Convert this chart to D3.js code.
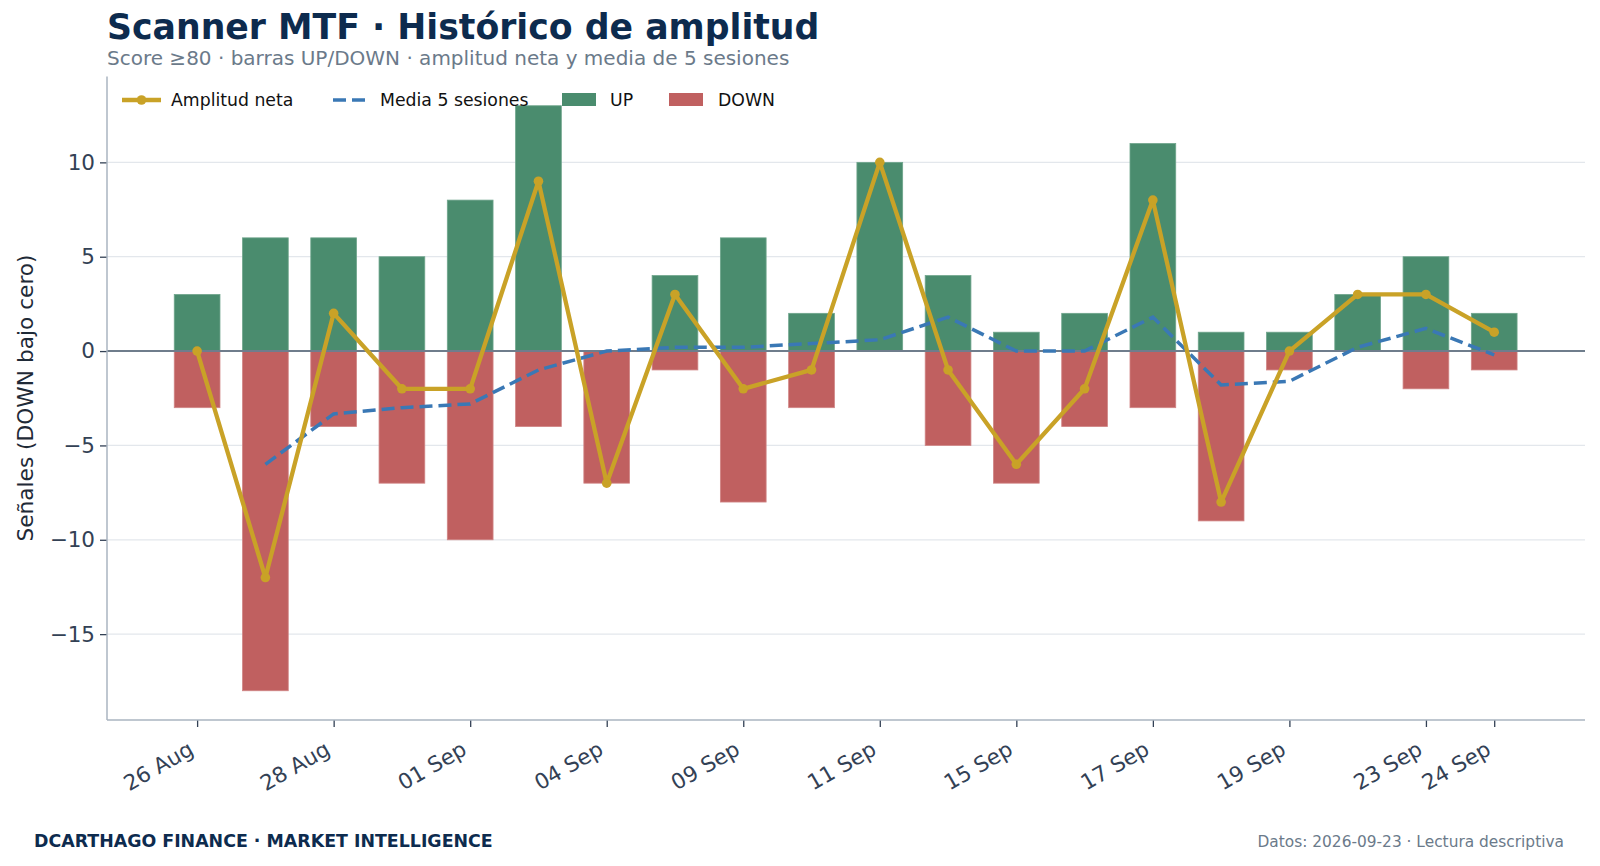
<!DOCTYPE html>
<html><head><meta charset="utf-8">
<script src="https://cdn.jsdelivr.net/npm/d3@7/dist/d3.min.js"></script>
<style>
html,body{margin:0;padding:0;background:#fff;}
svg{display:block;font-family:"DejaVu Sans",sans-serif;}
</style></head>
<body><svg id="c" width="1600" height="866"></svg>
<script>
const dates = ["26 Aug","27 Aug","28 Aug","29 Aug","01 Sep","02 Sep","04 Sep","05 Sep","09 Sep","10 Sep","11 Sep","12 Sep","15 Sep","16 Sep","17 Sep","18 Sep","19 Sep","22 Sep","23 Sep","24 Sep"];
const upValues = [3,6,6,5,8,13,0,4,6,2,10,4,1,2,11,1,1,3,5,2];
const downValues = [-3,-18,-4,-7,-10,-4,-7,-1,-8,-3,0,-5,-7,-4,-3,-9,-1,0,-2,-1];
const netValues = [0,-12,2,-2,-2,9,-7,3,-2,-1,10,-1,-6,-2,8,-8,0,3,3,1];
const mean5Values = [null,-6,-3.33,-3,-2.8,-1,0,0.2,0.2,0.4,0.6,1.8,0,0,1.8,-1.8,-1.6,0.2,1.2,-0.2];
const tickIndex = [0,2,4,6,8,10,12,14,16,18,19];
const yTicks = [-15,-10,-5,0,5,10];

const svg = d3.select("#c");
const L=107, R=1585, T=76.5, B=720;
const x = d3.scaleLinear().domain([-1.32,20.33]).range([L,R]);
const y = d3.scaleLinear().domain([-19.55,14.55]).range([B,T]);
const bw = x(0.67)-x(0);

const C = {up:"#4a8c6e", down:"#c06060", net:"#c9a227", mean:"#3a78b5", navy:"#0d2b4e", grey:"#6b7a8a", tick:"#334155", spine:"#aab4c0", grid:"#e3e7ec", zero:"#6f7d8c"};

// title
svg.append("text").attr("x",107).attr("y",38.5).attr("font-size",34.7).attr("font-weight","bold").attr("fill",C.navy).text("Scanner MTF · Histórico de amplitud");
svg.append("text").attr("x",107).attr("y",64.5).attr("font-size",20).attr("fill",C.grey).text("Score ≥80 · barras UP/DOWN · amplitud neta y media de 5 sesiones");

// grid
svg.append("g").selectAll("line").data(yTicks).join("line")
  .attr("x1",L).attr("x2",R).attr("y1",d=>y(d)).attr("y2",d=>y(d))
  .attr("stroke",C.grid).attr("stroke-width",1.2);

// bars
svg.append("g").selectAll("rect").data(upValues).join("rect")
  .attr("x",(d,i)=>x(i)-bw/2).attr("width",bw)
  .attr("y",d=>y(d)).attr("height",d=>y(0)-y(d))
  .attr("fill",C.up).attr("stroke","#6fa58c").attr("stroke-width",0.8);
svg.append("g").selectAll("rect").data(downValues).join("rect")
  .attr("x",(d,i)=>x(i)-bw/2).attr("width",bw)
  .attr("y",y(0)).attr("height",d=>y(d)-y(0))
  .attr("fill",C.down).attr("stroke","#d08585").attr("stroke-width",0.8);

// zero line
svg.append("line").attr("x1",L).attr("x2",R).attr("y1",y(0)).attr("y2",y(0)).attr("stroke",C.zero).attr("stroke-width",2);

// mean line
const meanLine = d3.line().defined(d=>d!==null).x((d,i)=>x(i)).y(d=>y(d));
svg.append("path").datum(mean5Values).attr("d",meanLine).attr("fill","none")
  .attr("stroke",C.mean).attr("stroke-width",3.5).attr("stroke-dasharray","13,6");

// net line
const netLine = d3.line().x((d,i)=>x(i)).y(d=>y(d));
svg.append("path").datum(netValues).attr("d",netLine).attr("fill","none")
  .attr("stroke",C.net).attr("stroke-width",4.3).attr("stroke-linejoin","round");
svg.append("g").selectAll("circle").data(netValues).join("circle")
  .attr("cx",(d,i)=>x(i)).attr("cy",d=>y(d)).attr("r",4.8).attr("fill",C.net);

// axes
const yAxis = svg.append("g").attr("transform",`translate(${L},0)`)
  .call(d3.axisLeft(y).tickValues(yTicks).tickSize(7).tickPadding(5).tickFormat(d=>d<0?"−"+Math.abs(d):d));
yAxis.select(".domain").remove();
yAxis.selectAll("text").attr("font-size",21.5).attr("fill",C.tick).attr("font-family","DejaVu Sans");
yAxis.selectAll("line").attr("stroke",C.tick).attr("stroke-width",1.3);

const xAxis = svg.append("g").attr("transform",`translate(0,${B})`)
  .call(d3.axisBottom(x).tickValues(tickIndex).tickSize(7).tickFormat(i=>dates[i]));
xAxis.select(".domain").remove();
xAxis.selectAll("line").attr("stroke",C.tick).attr("stroke-width",1.3);
xAxis.selectAll("text").attr("font-size",21.5).attr("fill",C.tick).attr("font-family","DejaVu Sans")
  .attr("text-anchor","end").attr("dy",null).attr("y",null)
  .attr("transform","translate(-2.5,33.5) rotate(-30)");

// spines
svg.append("line").attr("x1",L).attr("x2",L).attr("y1",T).attr("y2",B).attr("stroke",C.spine).attr("stroke-width",1.5);
svg.append("line").attr("x1",L).attr("x2",R).attr("y1",B).attr("y2",B).attr("stroke",C.spine).attr("stroke-width",1.5);

// y label
svg.append("text").attr("transform","translate(33,398) rotate(-90)").attr("text-anchor","middle")
  .attr("font-size",21.7).attr("fill","#1f2a37").text("Señales (DOWN bajo cero)");

// legend
const lg = svg.append("g").attr("font-size",17.3).attr("fill","#111");
const ly = 100;
lg.append("line").attr("x1",122).attr("x2",161).attr("y1",ly).attr("y2",ly).attr("stroke",C.net).attr("stroke-width",4.3);
lg.append("circle").attr("cx",141.5).attr("cy",ly).attr("r",4.8).attr("fill",C.net);
lg.append("text").attr("x",171).attr("y",ly+6).text("Amplitud neta");
lg.append("line").attr("x1",333).attr("x2",367).attr("y1",ly).attr("y2",ly).attr("stroke",C.mean).attr("stroke-width",3.5).attr("stroke-dasharray","13,6");
lg.append("text").attr("x",380).attr("y",ly+6).text("Media 5 sesiones");
lg.append("rect").attr("x",562).attr("y",ly-7).attr("width",34).attr("height",13).attr("fill",C.up);
lg.append("text").attr("x",610).attr("y",ly+6).text("UP");
lg.append("rect").attr("x",669).attr("y",ly-7).attr("width",34).attr("height",13).attr("fill",C.down);
lg.append("text").attr("x",718).attr("y",ly+6).text("DOWN");

// footer
svg.append("text").attr("x",34).attr("y",847).attr("font-size",17.4).attr("font-weight","bold").attr("fill",C.navy).text("DCARTHAGO FINANCE · MARKET INTELLIGENCE");
svg.append("text").attr("x",1564).attr("y",847).attr("text-anchor","end").attr("font-size",15.4).attr("fill",C.grey).text("Datos: 2026-09-23 · Lectura descriptiva");
</script></body></html>
